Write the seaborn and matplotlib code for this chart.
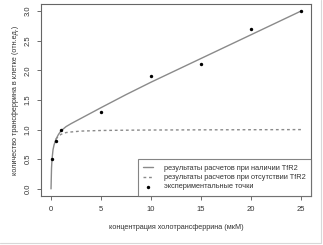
import matplotlib
matplotlib.use("Agg")
import matplotlib.pyplot as plt
from matplotlib.lines import Line2D
import seaborn as sns
import pandas as pd

sns.set_style("white")
plt.rcParams['font.family'] = ['Liberation Sans', 'DejaVu Sans']

# model curve with TfR2
x_with = [0, 0.05, 0.1, 0.2, 0.3, 0.5, 0.75, 1, 1.5, 2, 3, 5, 7.5, 10, 15, 20, 25]
y_with = [0.0, 0.35, 0.5, 0.66, 0.74, 0.84, 0.92, 0.98, 1.05, 1.1, 1.19, 1.37, 1.59, 1.80, 2.2, 2.6, 3.0]
# model curve without TfR2
x_without = [0.5, 0.75, 1, 1.5, 2, 3, 5, 7.5, 10, 15, 20, 25]
y_without = [0.84, 0.89, 0.92, 0.95, 0.96, 0.975, 0.985, 0.99, 0.993, 0.996, 0.998, 1.0]
# experimental points
x_exp = [0.1, 0.5, 1, 5, 10, 15, 20, 25]
y_exp = [0.5, 0.8, 1.0, 1.3, 1.9, 2.1, 2.7, 3.0]

labels = ["результаты расчетов при наличии TfR2",
          "результаты расчетов при отсутствии TfR2",
          "экспериментальные точки"]
xticks = [0, 5, 10, 15, 20, 25]
yticks = [0.0, 0.5, 1.0, 1.5, 2.0, 2.5, 3.0]

fig = plt.figure(figsize=(3.23, 2.45), dpi=100)
fig.lines.append(Line2D([0.0, 0.994, 0.994], [0.008, 0.008, 1.0], transform=fig.transFigure,
                        color="#d8d8d8", linewidth=0.8))
ax = fig.add_axes([0.127, 0.2, 0.836, 0.784])

sns.lineplot(x=x_with, y=y_with, ax=ax, color="#8a8a8a", linewidth=1.0,
             label=labels[0], sort=False)
sns.lineplot(x=x_without, y=y_without, ax=ax, color="#8a8a8a", linewidth=1.0,
             linestyle=(0, (2, 2)), label=labels[1], sort=False)
sns.scatterplot(x=x_exp, y=y_exp, ax=ax, color="black", s=6, linewidth=0,
                label=labels[2], zorder=5)

ax.set_xlim(-1.0, 26.0)
ax.set_ylim(-0.12, 3.12)
ax.set_xticks(xticks)
ax.set_xticklabels([str(t) for t in xticks])
ax.set_yticks(yticks)
ax.set_yticklabels([f"{t:.1f}" for t in yticks], rotation=90, va="center")
ax.tick_params(axis="both", labelsize=5.5, length=3, width=0.6, color="#555555",
               labelcolor="#333333", direction="out", bottom=True, left=True, pad=4)
for s in ax.spines.values():
    s.set_color("#666666")
    s.set_linewidth(0.8)

ax.set_xlabel("концентрация холотрансферрина (мкМ)", fontsize=5.2, color="#333333", labelpad=8)
ax.set_ylabel("количество трансферрина в клетке (отн.ед.)", fontsize=5.2, color="#333333", labelpad=4)

leg = ax.legend(loc="lower right", fontsize=5.3, frameon=True, fancybox=False,
                borderaxespad=0, handlelength=1.3, handletextpad=1.5,
                labelspacing=0.28, borderpad=0.75, markerscale=1.0)
leg.get_frame().set_edgecolor("#666666")
leg.get_frame().set_linewidth(0.8)
for t in leg.get_texts():
    t.set_color("#333333")

fig.savefig("out.png", dpi=100)
